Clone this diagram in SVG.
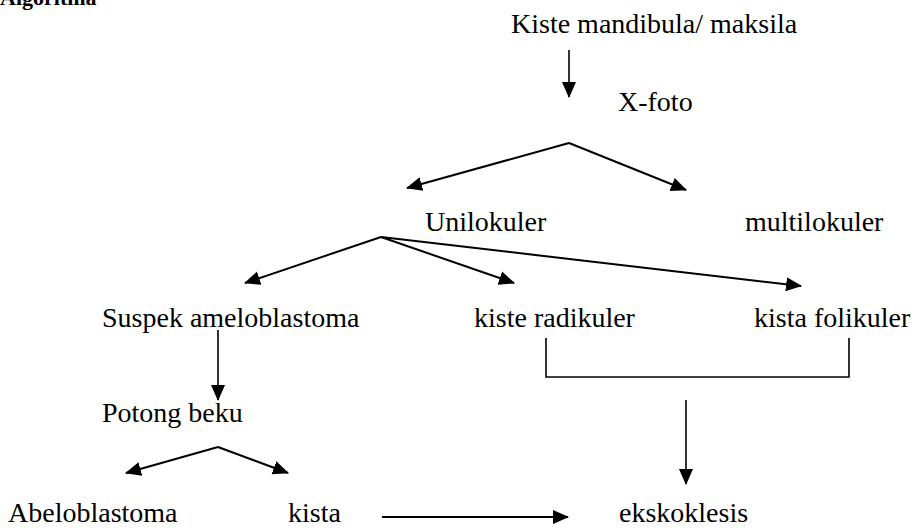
<svg xmlns="http://www.w3.org/2000/svg" width="915" height="530" viewBox="0 0 915 530" font-family="'Liberation Serif', 'Times New Roman', 'DejaVu Serif', serif">
<style>
text{font-family:'Liberation Serif','Times New Roman','DejaVu Serif',serif;font-size:28px;fill:#000}
.title{font-weight:bold;font-size:22px}
.c line,.c path{stroke:#000;stroke-width:2;fill:none}
.c .thin{stroke-width:1.6}
</style>
<defs>
<marker id="ah" markerUnits="userSpaceOnUse" markerWidth="16" markerHeight="16" viewBox="0 0 16 16" refX="15" refY="8" orient="auto">
<path d="M0,1 L16,8 L0,15 Z" fill="#000"/>
</marker>
</defs>
<rect width="915" height="530" fill="#fff"/>
<text class="title" x="0" y="5">Algoritma</text>
<g id="n-kiste"><text x="511" y="33">Kiste mandibula/ maksila</text></g>
<g id="n-xfoto"><text x="618" y="111">X-foto</text></g>
<g id="n-uni"><text x="425" y="231">Unilokuler</text></g>
<g id="n-multi"><text x="745" y="231">multilokuler</text></g>
<g id="n-suspek"><text x="102" y="327">Suspek ameloblastoma</text></g>
<g id="n-radikuler"><text x="474" y="327">kiste radikuler</text></g>
<g id="n-folikuler"><text x="754" y="327">kista folikuler</text></g>
<g id="n-potong"><text x="102" y="422">Potong beku</text></g>
<g id="n-abelo"><text x="8" y="522">Abeloblastoma</text></g>
<g id="n-kista"><text x="288" y="522">kista</text></g>
<g id="n-eks"><text x="619" y="522">ekskoklesis</text></g>
<g class="c" id="connectors">
<line class="thin" x1="569" y1="50" x2="569" y2="97" marker-end="url(#ah)"/>
<line x1="569" y1="143" x2="407" y2="188" marker-end="url(#ah)"/>
<line x1="569" y1="143" x2="686" y2="190" marker-end="url(#ah)"/>
<line x1="381" y1="237" x2="245" y2="283" marker-end="url(#ah)"/>
<line x1="381" y1="237" x2="514" y2="283" marker-end="url(#ah)"/>
<line x1="381" y1="237" x2="801" y2="286" marker-end="url(#ah)"/>
<line class="thin" x1="218" y1="330" x2="218" y2="400" marker-end="url(#ah)"/>
<path class="thin" d="M546,338 V377 H849 V338"/>
<line class="thin" x1="686" y1="400" x2="686" y2="484" marker-end="url(#ah)"/>
<line x1="218" y1="447" x2="126" y2="473" marker-end="url(#ah)"/>
<line x1="218" y1="447" x2="288" y2="473" marker-end="url(#ah)"/>
<line x1="382" y1="517" x2="568" y2="517" marker-end="url(#ah)"/>
</g>
</svg>
